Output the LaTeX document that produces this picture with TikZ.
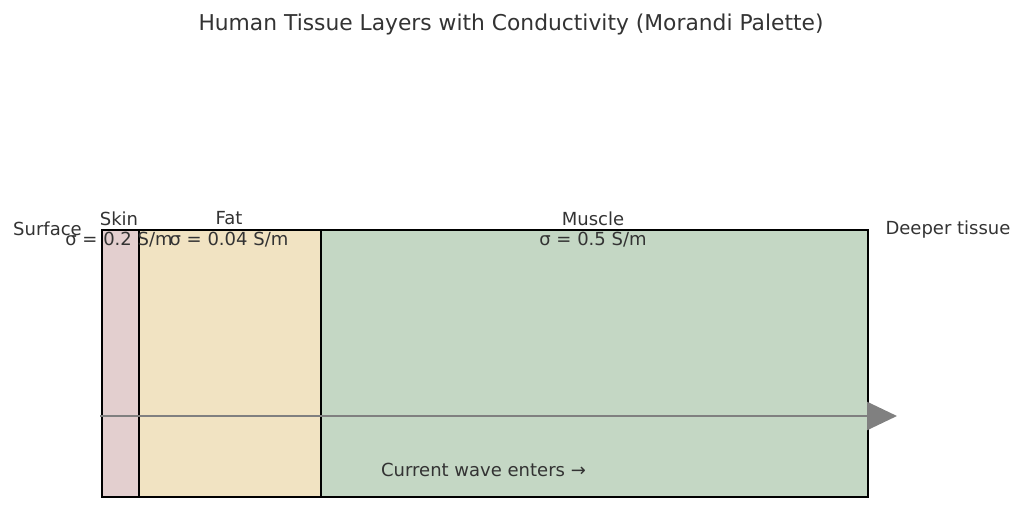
\documentclass[tikz,border=0pt]{standalone}
\usepackage{fontspec}
\setmainfont{DejaVu Sans}
\usetikzlibrary{arrows.meta}
\definecolor{txt}{HTML}{333333}
\definecolor{skinc}{HTML}{E3CFCF}
\definecolor{fatc}{HTML}{F1E3C2}
\definecolor{musc}{HTML}{C4D7C4}
\definecolor{arr}{HTML}{808080}
\tikzset{
  lbl/.style={text=txt, font=\fontsize{18}{20}\selectfont, inner sep=0pt},
  layer/.style={draw=black, line width=1.6pt, inner sep=0pt, anchor=north west},
}
\begin{document}
\begin{tikzpicture}[x=1pt,y=-1pt]
\useasboundingbox (0,0) rectangle (1024,510);
\node[layer, fill=skinc, minimum width=37pt, minimum height=267pt] (skin) at (101,229) {};
\node[layer, fill=fatc, minimum width=182pt, minimum height=267pt] (fat) at (138,229) {};
\node[layer, fill=musc, minimum width=547pt, minimum height=267pt] (muscle) at (320,229) {};
\node[text=txt, font=\fontsize{21.8}{24}\selectfont, inner sep=0pt] (title) at (511,24) {Human Tissue Layers with Conductivity (Morandi Palette)};
\node[lbl] (skinl) at (119,218.5) {Skin};
\node[lbl] (fatl) at (229,218.5) {Fat};
\node[lbl] (musl) at (593,218.5) {Muscle};
\node[lbl] (skins) at (119,240) {σ = 0.2 S/m};
\node[lbl] (fats) at (229,240) {σ = 0.04 S/m};
\node[lbl] (muss) at (593,240) {σ = 0.5 S/m};
\node[lbl] (surf) at (47.5,229) {Surface};
\node[lbl] (deep) at (948,229.5) {Deeper tissue};
\node[lbl] (cur) at (483.5,470) {Current wave enters →};
\coordinate (a0) at (100,416);
\coordinate (a1) at (897,416);
\draw[arr, line width=2.5pt, -{Triangle[width=28pt,length=30pt]}] (a0) -- (a1);
\end{tikzpicture}
\end{document}
